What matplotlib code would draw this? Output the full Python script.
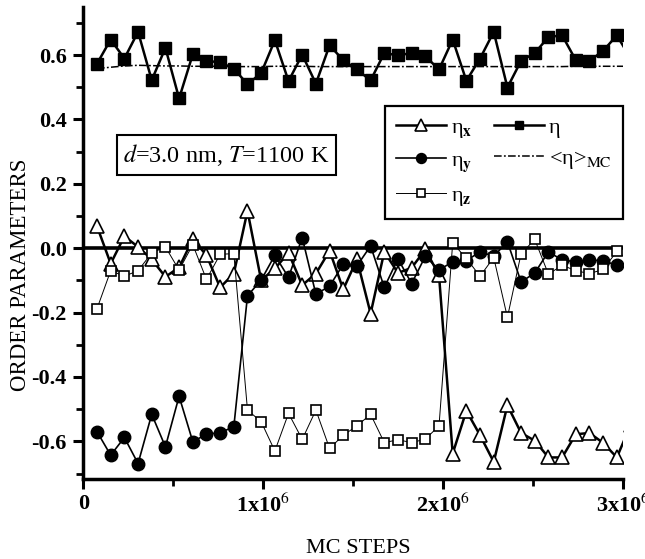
import numpy as np
import matplotlib
matplotlib.use("Agg")
import matplotlib.pyplot as plt
from matplotlib.ticker import FixedLocator, FixedFormatter

plt.rcParams['font.family'] = ['Liberation Serif', 'DejaVu Serif']
plt.rcParams['mathtext.fontset'] = 'stix'
plt.rcParams['axes.unicode_minus'] = False

# Monte Carlo sampling points (one sample every 76 000 steps)
mc_steps = np.arange(1, 41) * 76000

eta = [0.573, 0.648, 0.589, 0.672, 0.522, 0.622, 0.465, 0.602, 0.582, 0.577,
       0.558, 0.509, 0.544, 0.646, 0.519, 0.601, 0.511, 0.630, 0.584, 0.555,
       0.521, 0.606, 0.599, 0.606, 0.596, 0.555, 0.648, 0.520, 0.589, 0.672,
       0.499, 0.582, 0.606, 0.656, 0.661, 0.584, 0.582, 0.613, 0.661, 0.590]

eta_x = [0.068, -0.048, 0.037, 0.004, -0.035, -0.089, -0.060, 0.028, -0.022, -0.122,
         -0.079, 0.116, -0.100, -0.063, -0.015, -0.115, -0.079, -0.008, -0.128, -0.035,
         -0.203, -0.011, -0.077, -0.061, -0.004, -0.084, -0.638, -0.505, -0.581, -0.664,
         -0.488, -0.574, -0.598, -0.650, -0.650, -0.578, -0.574, -0.605, -0.650, -0.550]

eta_y = [-0.570, -0.643, -0.588, -0.669, -0.516, -0.617, -0.460, -0.601, -0.578, -0.573,
         -0.555, -0.148, -0.099, -0.022, -0.091, 0.033, -0.143, -0.118, -0.050, -0.055,
         0.007, -0.122, -0.033, -0.110, -0.025, -0.068, -0.042, -0.039, -0.011, -0.025,
         0.020, -0.105, -0.077, -0.011, -0.037, -0.042, -0.037, -0.039, -0.053, -0.050]

eta_z = [-0.188, -0.070, -0.087, -0.070, -0.015, 0.004, -0.068, 0.011, -0.097, -0.019,
         -0.017, -0.503, -0.539, -0.630, -0.513, -0.594, -0.503, -0.622, -0.581, -0.552,
         -0.516, -0.604, -0.595, -0.604, -0.593, -0.552, 0.016, -0.032, -0.087, -0.029,
         -0.215, -0.017, 0.027, -0.081, -0.053, -0.070, -0.079, -0.066, -0.010, -0.040]

eta_mc = [0.558, 0.562, 0.566, 0.568, 0.567, 0.566, 0.566, 0.565, 0.565, 0.565,
          0.564, 0.564, 0.564, 0.565, 0.565, 0.565, 0.564, 0.564, 0.564, 0.564,
          0.564, 0.564, 0.564, 0.564, 0.564, 0.564, 0.564, 0.564, 0.564, 0.564,
          0.564, 0.564, 0.564, 0.564, 0.564, 0.565, 0.565, 0.565, 0.565, 0.565]

y_ticks = [-0.6, -0.4, -0.2, 0.0, 0.2, 0.4, 0.6]
y_tick_labels = ['-0.6', '-0.4', '-0.2', '0.0', '0.2', '0.4', '0.6']
y_minor = [-0.7, -0.5, -0.3, -0.1, 0.1, 0.3, 0.5, 0.7]
x_ticks = [0, 1e6, 2e6, 3e6]
x_tick_labels = ['0', r'1x10$^{6}$', r'2x10$^{6}$', r'3x10$^{6}$']
x_minor = [0.5e6, 1.5e6, 2.5e6]

fig = plt.figure(figsize=(6.45, 5.59), dpi=100)
ax = fig.add_axes([0.1292, 0.1431, 0.8372, 0.8449])

ax.axhline(0.0, color='black', lw=2.6, zorder=1)

ax.plot(mc_steps, eta_x, '-', color='black', lw=1.8, marker='^', ms=10,
        mfc='white', mec='black', mew=1.2, label=r'η$_{\mathbf{x}}$')
ax.plot(mc_steps, eta_y, '-', color='black', lw=1.2, marker='o', ms=9,
        mfc='black', mec='black', label=r'η$_{\mathbf{y}}$')
ax.plot(mc_steps, eta_z, '-', color='black', lw=0.7, marker='s', ms=7.5,
        mfc='white', mec='black', mew=1.2, label=r'η$_{\mathbf{z}}$')
ax.plot(mc_steps, eta, '-', color='black', lw=1.8, marker='s', ms=8,
        mfc='black', mec='black', label='η')
ax.plot(mc_steps, eta_mc, color='black', lw=1.1, dashes=(5, 1.5, 1.2, 1.5),
        label=r'<η>$_{\mathrm{MC}}$')

ax.set_xlim(0, 3e6)
ax.set_ylim(-0.717, 0.750)

for side in ('top', 'right'):
    ax.spines[side].set_visible(False)
for side in ('left', 'bottom'):
    ax.spines[side].set_linewidth(2.5)

ax.yaxis.set_major_locator(FixedLocator(y_ticks))
ax.yaxis.set_major_formatter(FixedFormatter(y_tick_labels))
ax.yaxis.set_minor_locator(FixedLocator(y_minor))
ax.xaxis.set_major_locator(FixedLocator(x_ticks))
ax.xaxis.set_major_formatter(FixedFormatter(x_tick_labels))
ax.xaxis.set_minor_locator(FixedLocator(x_minor))

ax.tick_params(which='major', direction='out', length=7, width=2.2, labelsize=16, pad=5)
ax.tick_params(which='minor', direction='out', length=5, width=2.0)
ax.tick_params(axis='x', which='major', pad=4)
for lbl in ax.get_yticklabels() + ax.get_xticklabels():
    lbl.set_fontweight('bold')

ax.set_xlabel('MC STEPS', fontsize=16)
ax.set_ylabel('ORDER PARAMETERS', fontsize=16.5)
ax.xaxis.set_label_coords(0.51, -0.127)
ax.yaxis.set_label_coords(-0.097, 0.432)

ax.text(0.265, 0.686, r'$d$=3.0 nm, $T$=1100 K', transform=ax.transAxes,
        ha='center', va='center', fontsize=17.5,
        bbox=dict(boxstyle='square,pad=0.27', fc='white', ec='black', lw=1.5))

leg = ax.legend(ncol=2, loc='upper left', bbox_to_anchor=(0.559, 0.790),
                borderaxespad=0, fontsize=16, frameon=True,
                fancybox=False, edgecolor='black', framealpha=1,
                handlelength=2.25, handletextpad=0.2, columnspacing=1.0,
                labelspacing=0.5, markerscale=0.8, borderpad=0.5)
leg.get_frame().set_linewidth(1.6)

fig.savefig('out.png', dpi=100)
